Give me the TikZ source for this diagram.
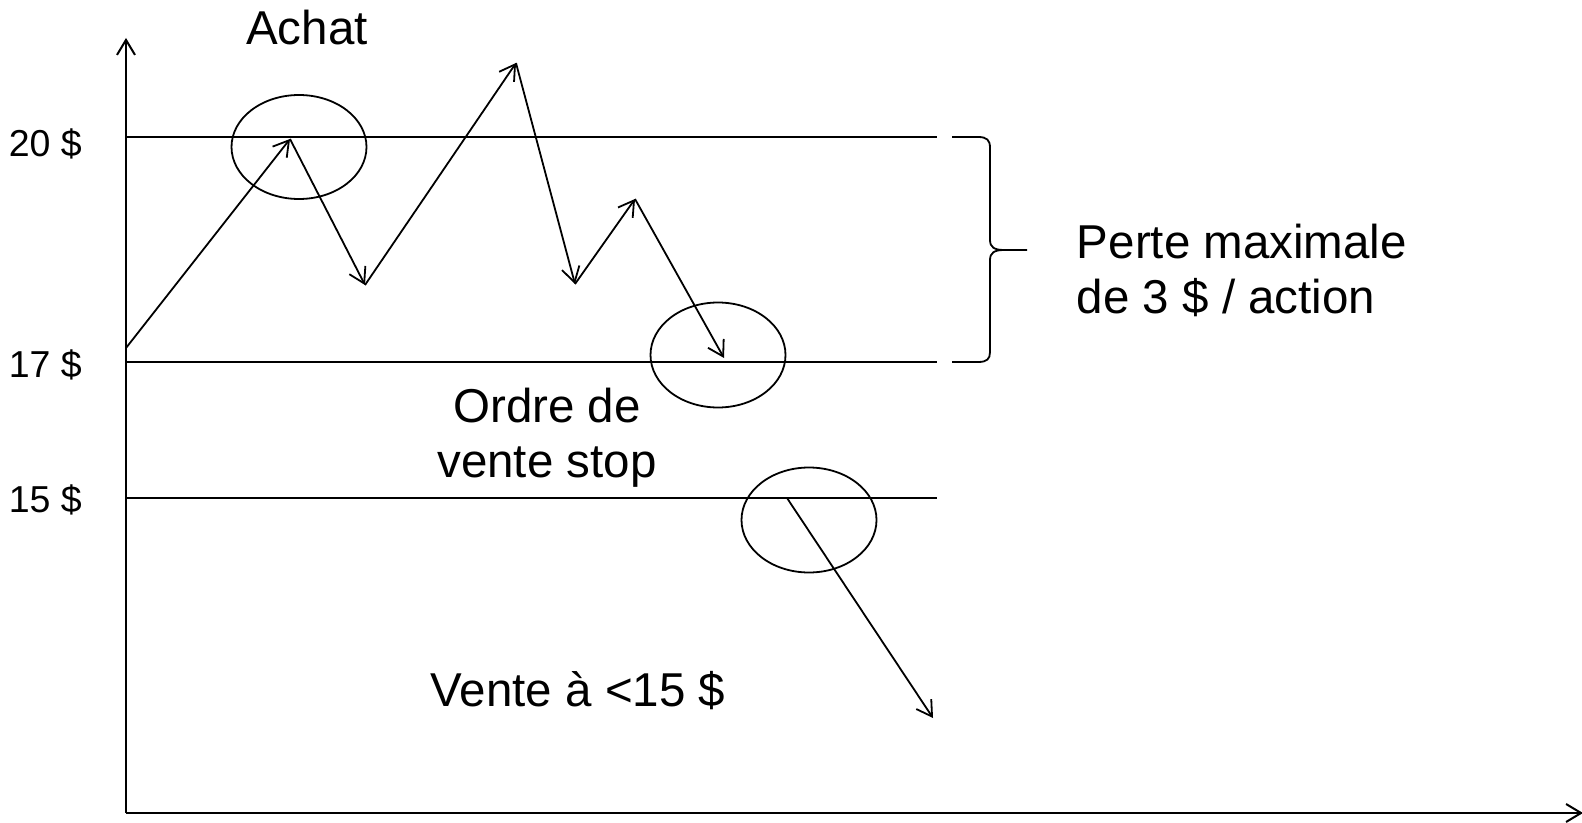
\documentclass[tikz,border=0pt]{standalone}
\usepackage{fontspec}
\setmainfont{Liberation Sans}
\usetikzlibrary{arrows.meta}

\begin{document}
\begin{tikzpicture}[x=0.5pt, y=-0.5pt, line width=0.9pt,
    >={Straight Barb[length=7.5pt,width=9pt]},
    txt/.style={font=\fontsize{23.75}{27.75}\selectfont, inner sep=0pt},
    lbl/.style={font=\fontsize{18.75}{22}\selectfont, inner sep=0pt, anchor=base west}]

\useasboundingbox (0,0) rectangle (1582,823);

% Points
\coordinate (O) at (126,813);
\coordinate (ytop) at (126,38);
\coordinate (xend) at (1583,813);
\coordinate (a20) at (126,137);
\coordinate (b20) at (937,137);
\coordinate (a17) at (126,362);
\coordinate (b17) at (937,362);
\coordinate (a15) at (126,498);
\coordinate (b15) at (937,498);

% Price path
\coordinate (p0) at (126,348);
\coordinate (p1) at (290,139);
\coordinate (p2) at (365,285);
\coordinate (p3) at (516,63);
\coordinate (p4) at (575,284);
\coordinate (p5) at (635,199);
\coordinate (p6) at (724,358);
\coordinate (p7) at (787,498);
\coordinate (p8) at (933,718);

% Axes
\draw[->, line width=1pt] (O) -- (ytop);
\draw[->, line width=1pt] (O) -- (xend);

% Levels
\draw (a20) -- (b20);
\draw (a17) -- (b17);
\draw (a15) -- (b15);

% Price moves
\foreach \a/\b in {p0/p1, p1/p2, p2/p3, p3/p4, p4/p5, p5/p6, p7/p8}
  \draw[->] (\a) -- (\b);

% Circles
\draw (299,147) ellipse [x radius=67.5, y radius=52];
\draw (718,355) ellipse [x radius=67.5, y radius=52.5];
\draw (809,520) ellipse [x radius=67.5, y radius=52.5];

% Brace
\draw (952,137) -- (978,137) .. controls (987,137) and (990,140) .. (990,148)
  -- (990,240) .. controls (990,247) and (994,250) .. (1004,250) -- (1027,250);
\draw (1004,250) .. controls (994,250) and (990,253) .. (990,260)
  -- (990,352) .. controls (990,359) and (987,362) .. (978,362) -- (952,362);

% Labels
\node[lbl] (l20) at (8,157) {20 \$};
\node[lbl] (l17) at (8,377) {17 \$};
\node[lbl] (l15) at (8,512) {15 \$};

\node[txt, anchor=base] (achat) at (307,45) {Achat};
\node[txt, anchor=north west, align=left] (perte) at (1076,223)
  {Perte maximale\\de 3 \$ / action};
\node[txt, anchor=north, align=center] (ordre) at (547,387)
  {Ordre de\\vente stop};
\node[txt, anchor=base] (vente) at (578,706) {Vente à <15 \$};

\end{tikzpicture}
\end{document}
